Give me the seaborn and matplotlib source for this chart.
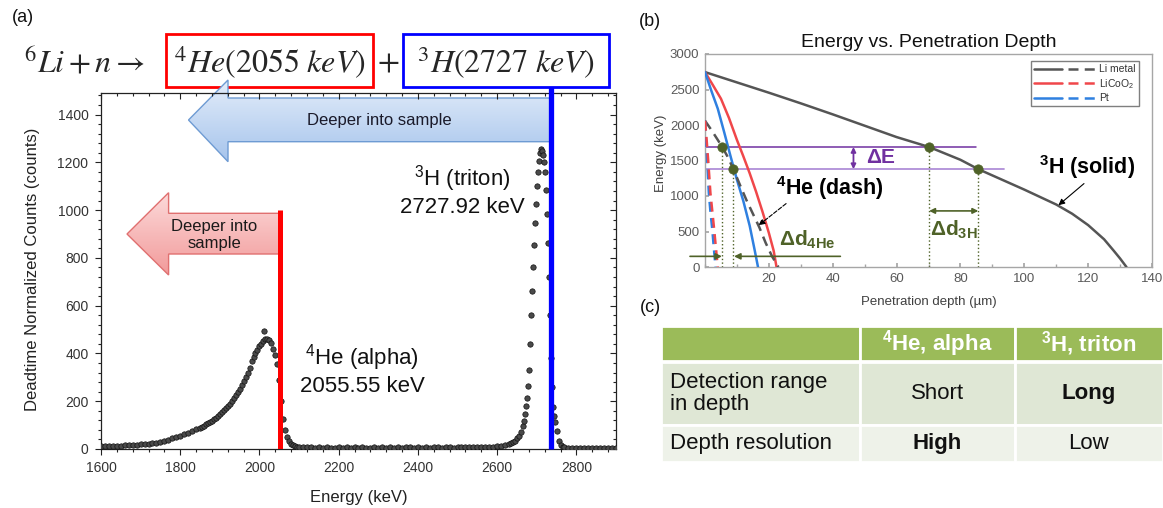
import numpy as np
import matplotlib
matplotlib.use("Agg")
import matplotlib.pyplot as plt
from matplotlib.colors import LinearSegmentedColormap
from matplotlib.legend_handler import HandlerTuple
from matplotlib.lines import Line2D
from matplotlib.patches import Polygon, Rectangle
from matplotlib.ticker import MultipleLocator
import seaborn as sns

# ---- (a) spectrum, values ----
alpha_energy = [1600, 1610, 1620, 1630, 1640, 1650, 1660, 1670, 1680, 1690,
                1700, 1710, 1720, 1730, 1740, 1750, 1760, 1770, 1780, 1790,
                1800, 1810, 1820, 1830, 1840,
                1850, 1855, 1860, 1865, 1870, 1875, 1880, 1885, 1890, 1895,
                1900, 1905, 1910, 1915, 1920, 1925, 1930, 1935, 1940, 1945,
                1950, 1955, 1960, 1965, 1970, 1975, 1980, 1985, 1990, 1995,
                2000, 2005, 2010, 2012, 2015, 2020, 2025, 2030, 2035, 2040, 2045,
                2050, 2055, 2060, 2065, 2070, 2075, 2080, 2085, 2090, 2095, 2100]
alpha_counts = [12, 11, 13, 12, 14, 13, 15, 16, 15, 18,
                19, 21, 22, 25, 27, 31, 34, 38, 44, 49,
                56, 61, 68, 74, 82,
                88, 92, 97, 103, 108, 113, 119, 126, 131, 139,
                146, 155, 163, 171, 182, 190, 201, 212, 226, 238,
                252, 268, 284, 301, 318, 340, 368, 385, 400, 415,
                430, 440, 452, 495, 460, 462, 455, 444, 420, 395, 355,
                290, 200, 125, 80, 52, 33, 22, 16, 12, 10, 9]

background_energy = [2110, 2120, 2130, 2140, 2150, 2160, 2170, 2180, 2190, 2200,
                     2210, 2220, 2230, 2240, 2250, 2260, 2270, 2280, 2290, 2300,
                     2310, 2320, 2330, 2340, 2350, 2360, 2370, 2380, 2390, 2400,
                     2410, 2420, 2430, 2440, 2450, 2460, 2470, 2480, 2490, 2500,
                     2510, 2520, 2530, 2540, 2550, 2560, 2570, 2580, 2590, 2600,
                     2610, 2620, 2630]
background_counts = [8, 7, 7, 6, 7, 6, 7, 6, 6, 7,
                     6, 7, 6, 7, 6, 7, 6, 6, 7, 6,
                     7, 6, 7, 6, 7, 6, 7, 7, 6, 7,
                     6, 7, 6, 7, 7, 6, 7, 7, 6, 7,
                     8, 7, 8, 7, 8, 8, 9, 9, 10, 11,
                     13, 16, 20]

triton_energy = [2635, 2640, 2645, 2650, 2655, 2660, 2665,
                 2667.5, 2670, 2672.5, 2675, 2677.5, 2680, 2682.5, 2685, 2687.5, 2690,
                 2692.5, 2695, 2697.5, 2700, 2702.5, 2705, 2707.5, 2710, 2712.5, 2715,
                 2717.5, 2720, 2722.5, 2725, 2727.5, 2730, 2732.5, 2735, 2737.5, 2740,
                 2742.5, 2745, 2750, 2755, 2760, 2765, 2770,
                 2780, 2790, 2800, 2810, 2820, 2830, 2840, 2850, 2860, 2870, 2880, 2890, 2900]
triton_counts = [24, 29, 35, 44, 56, 72, 98,
                 118, 145, 178, 215, 262, 330, 440, 560, 660, 760,
                 855, 945, 1025, 1100, 1160, 1205, 1240, 1255, 1248, 1232,
                 1200, 1160, 1085, 985, 862, 720, 560, 380, 260, 175,
                 138, 112, 75, 32, 15, 9, 7,
                 6, 6, 5, 6, 5, 6, 5, 6, 5, 6, 5, 6, 5]

alpha_line_kev = 2052
triton_line_kev = 2737

# ---- (b) energy vs penetration depth ----
li_triton_depth = [0, 10, 20, 30, 40, 50, 60, 70.2, 80, 85.6, 90, 100, 110, 115, 120, 125, 128, 130, 132]
li_triton_energy = [2745, 2600, 2455, 2305, 2150, 1990, 1830, 1690, 1510, 1378, 1290, 1090, 880, 750, 590, 390, 230, 120, 0]
licoo2_triton_depth = [0, 2.5, 5, 7.5, 10, 12, 14, 16, 18, 20, 21.5, 22.4]
licoo2_triton_energy = [2745, 2560, 2370, 2100, 1790, 1560, 1320, 1060, 780, 480, 230, 0]
pt_triton_depth = [0, 2, 4, 6, 8, 10, 12, 14, 15.5, 16.6]
pt_triton_energy = [2745, 2480, 2230, 1900, 1560, 1230, 930, 580, 250, 0]

li_alpha_depth = [0, 2, 4, 5.4, 7, 8.9, 11, 13, 15, 17, 19, 21, 23]
li_alpha_energy = [2060, 1930, 1790, 1690, 1560, 1378, 1150, 940, 750, 560, 340, 150, 0]
licoo2_alpha_depth = [0, 0.5, 1, 1.7, 2.3, 2.8, 3.4, 4.0]
licoo2_alpha_energy = [2060, 1800, 1500, 1040, 780, 560, 280, 0]
pt_alpha_depth = [0, 0.3, 0.7, 1.2, 1.7, 2.3, 2.8, 3.3]
pt_alpha_energy = [2060, 1800, 1500, 1040, 780, 520, 250, 0]

materials = ["Li metal", "LiCoO$_2$", "Pt"]
material_colors = ["#555555", "#f0474a", "#2f80e0"]

delta_e_levels = [1690, 1378]
marker_depth = [5.4, 8.9, 70.2, 85.6]
marker_energy = [1690, 1378, 1690, 1378]

# ---- (c) comparison table ----
table_columns = ["", "$^{\\mathbf{4}}$He, alpha", "$^{\\mathbf{3}}$H, triton"]
table_rows = ["Detection range\nin depth", "Depth resolution"]
table_values = [["Short", "Long"], ["High", "Low"]]
table_bold = [[False, True], [True, False]]

W, H = 1163, 508


def fig_box(left, top, right, bottom):
    return [left / W, 1 - bottom / H, (right - left) / W, (bottom - top) / H]


sns.set_theme(style="white")
plt.rcParams["font.family"] = ["Liberation Sans", "DejaVu Sans"]
plt.rcParams["mathtext.fontset"] = "custom"
plt.rcParams["mathtext.rm"] = "Liberation Sans"
plt.rcParams["mathtext.it"] = "Liberation Sans:italic"
plt.rcParams["mathtext.bf"] = "Liberation Sans:bold"

fig = plt.figure(figsize=(W / 100, H / 100), dpi=100)
overlay = fig.add_axes([0, 0, 1, 1])
ax_a = fig.add_axes(fig_box(101, 93, 616, 449))
ax_b = fig.add_axes(fig_box(705, 54, 1152, 267))
ax_c = fig.add_axes(fig_box(661, 326, 1163, 462))
for ax in (ax_a, ax_b):
    ax.patch.set_alpha(0)

# ================= (a) =================
spec_energy = alpha_energy + background_energy + triton_energy
spec_counts = alpha_counts + background_counts + triton_counts
sns.scatterplot(x=spec_energy, y=spec_counts, ax=ax_a, s=15, color="#4a4a4a",
                edgecolor="#111111", linewidth=0.5, zorder=3, legend=False)
ax_a.plot([alpha_line_kev] * 2, [0, 1000], color="#ff0000", lw=3.6,
          solid_capstyle="butt", zorder=4)
ax_a.plot([triton_line_kev] * 2, [0, 1517], color="#0000ff", lw=3.8,
          solid_capstyle="butt", zorder=4, clip_on=False)

ax_a.set_xlim(1600, 2900)
ax_a.set_ylim(0, 1490)
ax_a.xaxis.set_major_locator(MultipleLocator(200))
ax_a.xaxis.set_minor_locator(MultipleLocator(40))
ax_a.yaxis.set_major_locator(MultipleLocator(200))
ax_a.yaxis.set_minor_locator(MultipleLocator(40))
ax_a.tick_params(which="both", bottom=True, left=True, direction="out",
                 color="#222222", labelcolor="#333333", labelsize=10, width=0.8)
ax_a.tick_params(which="major", length=4, pad=5)
ax_a.tick_params(which="minor", length=2.5)
for side in ("top", "right"):
    sec = ax_a.secondary_xaxis("top") if side == "top" else ax_a.secondary_yaxis("right")
    axis = sec.xaxis if side == "top" else sec.yaxis
    axis.set_major_locator(MultipleLocator(200))
    axis.set_minor_locator(MultipleLocator(40))
    sec.tick_params(which="both", direction="in", color="#222222", width=0.8,
                    labeltop=False, labelright=False)
    sec.tick_params(which="major", length=4)
    sec.tick_params(which="minor", length=2.5)
    sec.spines[side].set_visible(False)
for sp in ax_a.spines.values():
    sp.set_color("#222222")
    sp.set_linewidth(0.9)

ax_a.set_xlabel("Energy (keV)", fontsize=12, color="#222222")
ax_a.set_ylabel("Deadtime Normalized Counts (counts)", fontsize=12, color="#222222")
ax_a.xaxis.set_label_coords(0.5, -0.115)
ax_a.yaxis.set_label_coords(-0.118, 0.506)

ax_a.text(2512, 1081, "$^{3}$H (triton)\n2727.92 keV", ha="center", va="center",
          fontsize=16, color="#111111")
ax_a.text(2259, 333, "$^{4}$He (alpha)\n2055.55 keV", ha="center", va="center",
          fontsize=16, color="#111111")

# ================= (b) =================
curves = [
    (li_triton_depth, li_triton_energy, material_colors[0], "-"),
    (licoo2_triton_depth, licoo2_triton_energy, material_colors[1], "-"),
    (pt_triton_depth, pt_triton_energy, material_colors[2], "-"),
    (li_alpha_depth, li_alpha_energy, material_colors[0], (0, (4, 2.5))),
    (pt_alpha_depth, pt_alpha_energy, material_colors[2], (0, (4, 2.5))),
    (licoo2_alpha_depth, licoo2_alpha_energy, material_colors[1], (0, (4, 2.5))),
]
for depth, energy, color, ls in curves:
    sns.lineplot(x=depth, y=energy, ax=ax_b, color=color, lw=1.8, linestyle=ls,
                 estimator=None, sort=False, zorder=3)

purple_dark, purple_light, green = "#7030a0", "#b08fd8", "#4f6228"
ax_b.plot([0, 85], [delta_e_levels[0]] * 2, color=purple_dark, lw=1.1, zorder=2)
ax_b.plot([0, 93.6], [delta_e_levels[1]] * 2, color=purple_light, lw=1.3, zorder=2)
ax_b.vlines(marker_depth, 0, marker_energy, colors=green, linestyles=":", lw=1, zorder=2)
sns.scatterplot(x=marker_depth, y=marker_energy, ax=ax_b, color=green, s=45,
                edgecolor=green, zorder=5, legend=False)

ax_b.annotate("", xy=(46.5, delta_e_levels[1]), xytext=(46.5, delta_e_levels[0]),
              arrowprops=dict(arrowstyle="<|-|>", color=purple_dark, lw=1.3,
                              mutation_scale=7, shrinkA=0, shrinkB=0))
ax_b.text(50.5, 1545, "ΔE", color=purple_dark, fontsize=15, fontweight="bold",
          ha="left", va="center")
ax_b.annotate("", xy=(85.6, 790), xytext=(70.2, 790),
              arrowprops=dict(arrowstyle="<|-|>", color=green, lw=1.2,
                              mutation_scale=8, shrinkA=0, shrinkB=0))
ax_b.text(78, 520, "Δd$_{\\mathbf{3H}}$", color=green, fontsize=15,
          fontweight="bold", ha="center", va="center")
ax_b.annotate("", xy=(5.3, 150), xytext=(-4.7, 150), annotation_clip=False,
              arrowprops=dict(arrowstyle="-|>", color=green, lw=1.2,
                              mutation_scale=9, shrinkA=0, shrinkB=0))
ax_b.annotate("", xy=(9.1, 150), xytext=(42.4, 150),
              arrowprops=dict(arrowstyle="-|>", color=green, lw=1.2,
                              mutation_scale=9, shrinkA=0, shrinkB=0))
ax_b.text(32, 380, "Δd$_{\\mathbf{4He}}$", color=green, fontsize=15,
          fontweight="bold", ha="center", va="center")

ax_b.text(39.2, 1105, "$^{\\mathbf{4}}$He (dash)", fontsize=15.5, fontweight="bold",
          ha="center", va="center", color="black")
ax_b.annotate("", xy=(16.8, 588), xytext=(25.4, 893),
              arrowprops=dict(arrowstyle="-|>", color="black", lw=0.8, ls="--",
                              mutation_scale=9, shrinkA=0, shrinkB=0))
ax_b.text(119.7, 1410, "$^{\\mathbf{3}}$H (solid)", fontsize=15.5, fontweight="bold",
          ha="center", va="center", color="black")
ax_b.annotate("", xy=(110.7, 870), xytext=(118.7, 1175),
              arrowprops=dict(arrowstyle="-|>", color="black", lw=0.8,
                              mutation_scale=9, shrinkA=0, shrinkB=0))

handles = [(Line2D([], [], color=c, lw=1.8), Line2D([], [], color=c, lw=1.8, ls=(0, (4, 2.5))))
           for c in material_colors]
leg = ax_b.legend(handles, materials, handler_map={tuple: HandlerTuple(ndivide=None, pad=0.5)},
                  loc="upper right", bbox_to_anchor=(0.971, 0.967), borderaxespad=0,
                  fontsize=7.5, handlelength=6, frameon=True, fancybox=False,
                  edgecolor="#7f7f7f", framealpha=1, labelspacing=0.25,
                  handletextpad=0.3, borderpad=0.3)
leg.get_frame().set_linewidth(1.0)
for t in leg.get_texts():
    t.set_color("#333333")

ax_b.set_xlim(0, 140)
ax_b.set_ylim(0, 3000)
ax_b.set_xticks(range(20, 141, 20))
ax_b.xaxis.set_minor_locator(MultipleLocator(10))
ax_b.set_yticks(range(0, 3001, 500))
ax_b.tick_params(which="both", bottom=True, left=True, direction="in",
                 color="#a6a6a6", labelcolor="#595959", labelsize=9.5)
ax_b.tick_params(which="major", length=3, pad=4)
ax_b.tick_params(which="minor", length=2)
for sp in ax_b.spines.values():
    sp.set_color("#a6a6a6")
    sp.set_linewidth(1.0)
ax_b.set_title("Energy vs. Penetration Depth", fontsize=14, pad=5, color="#111111")
ax_b.set_xlabel("Penetration depth (\u00b5m)", fontsize=9.5, color="#404040")
ax_b.set_ylabel("Energy (keV)", fontsize=9.5, color="#404040")
ax_b.xaxis.set_label_coords(0.5, -0.136)
ax_b.yaxis.set_label_coords(-0.085, 0.535)

# ================= (c) =================
col_edges = [661, 860, 1015, 1163]
row_edges = [(326, 361), (362, 425), (425, 462)]
row_fill = ["#9bbb59", "#dfe7d5", "#eef2e9"]
ax_c.set_xlim(661, 1163)
ax_c.set_ylim(462, 326)
ax_c.axis("off")
for r, (top, bottom) in enumerate(row_edges):
    for c in range(3):
        ax_c.add_patch(Rectangle((col_edges[c], top), col_edges[c + 1] - col_edges[c],
                                 bottom - top, facecolor=row_fill[r], edgecolor="white",
                                 lw=2, clip_on=False))
for c in range(1, 3):
    ax_c.text((col_edges[c] + col_edges[c + 1]) / 2, sum(row_edges[0]) / 2, table_columns[c],
              ha="center", va="center", fontsize=16, fontweight="bold", color="white")
for r in range(2):
    yc = sum(row_edges[r + 1]) / 2
    ax_c.text(670, yc, table_rows[r], ha="left", va="center", fontsize=16,
              color="#111111", linespacing=1.05)
    for c in range(2):
        ax_c.text((col_edges[c + 1] + col_edges[c + 2]) / 2, yc, table_values[r][c],
                  ha="center", va="center", fontsize=16, color="#111111",
                  fontweight="bold" if table_bold[r][c] else "normal")

# ================= overlay: equation, arrows, labels =================
def gradient_arrow(points, c_top, c_bottom, edge):
    poly = Polygon(points, closed=True, facecolor="none", edgecolor=edge, lw=1, zorder=3)
    overlay.add_patch(poly)
    xs, ys = zip(*points)
    cmap = LinearSegmentedColormap.from_list("g", [c_top, c_bottom])
    im = overlay.imshow(np.linspace(0, 1, 64).reshape(-1, 1), cmap=cmap, aspect="auto",
                        extent=(min(xs), max(xs), max(ys), min(ys)), zorder=2)
    im.set_clip_path(poly)


gradient_arrow([(188.5, 120), (228, 80), (228, 98), (552, 98), (552, 141.7),
                (228, 141.7), (228, 161.7)], "#e3edfa", "#a6c4ec", "#6e9bd3")
gradient_arrow([(127, 234), (168.6, 192.7), (168.6, 213.3), (281, 213.3), (281, 254),
                (168.6, 254), (168.6, 275)], "#fcdada", "#f29a9a", "#e07070")
overlay.text(379, 121, "Deeper into sample", ha="center", va="center", fontsize=12,
             color="#1a1a2a")
overlay.text(214, 235, "Deeper into\nsample", ha="center", va="center", fontsize=12,
             color="#1a1a1a", linespacing=1.15)

overlay.text(24, 63, r"$^{6}Li + n \rightarrow$", ha="left", va="center", fontsize=23,
             math_fontfamily="stix")
overlay.text(269.5, 63, r"$^{4}He(2055\ keV)$", ha="center", va="center", fontsize=23,
             math_fontfamily="stix")
overlay.text(388, 63, r"$+$", ha="center", va="center", fontsize=23, math_fontfamily="stix")
overlay.text(506, 63, r"$^{3}H(2727\ keV)$", ha="center", va="center", fontsize=23,
             math_fontfamily="stix")
overlay.add_patch(Rectangle((166, 34), 207, 53, fill=False, edgecolor="#ff0000", lw=2))
overlay.add_patch(Rectangle((403, 34), 206, 53, fill=False, edgecolor="#0000ff", lw=2))

overlay.text(23, 18, "(a)", ha="center", va="center", fontsize=13, color="#111111")
overlay.text(650, 22, "(b)", ha="center", va="center", fontsize=13, color="#111111")
overlay.text(650, 307, "(c)", ha="center", va="center", fontsize=13, color="#111111")

overlay.set_xlim(0, W)
overlay.set_ylim(H, 0)
overlay.axis("off")

fig.savefig("out.png", dpi=100)
